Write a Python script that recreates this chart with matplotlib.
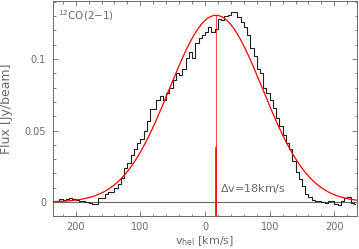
import numpy as np
import matplotlib
matplotlib.use("Agg")
import matplotlib.pyplot as plt
from matplotlib.ticker import MultipleLocator, FuncFormatter

# spectrum: channel width 5 km/s, first channel centre at -232.5 km/s
chan_width = 5.0
v_first = -232.5
flux = [
    0.001, 0.0005, 0.002, 0.0015, 0.002, 0.003, 0.0025, 0.0015, 0.001, 0.0005,
    0.0, -0.0005, -0.0015, -0.0015, 0.003, 0.003, 0.006, 0.007, 0.007, 0.0097,
    0.013, 0.017, 0.024, 0.027, 0.033, 0.037, 0.041, 0.044, 0.050, 0.057,
    0.065, 0.065, 0.071, 0.074, 0.071, 0.076, 0.080, 0.085, 0.090, 0.089,
    0.093, 0.101, 0.105, 0.101, 0.111, 0.115, 0.117, 0.119, 0.122, 0.119,
    0.121, 0.128, 0.127, 0.130, 0.131, 0.133, 0.133, 0.129, 0.126, 0.122,
    0.117, 0.108, 0.102, 0.093, 0.090, 0.080, 0.076, 0.071, 0.066, 0.059,
    0.053, 0.047, 0.041, 0.037, 0.029, 0.021, 0.016, 0.011, 0.006, 0.0035,
    0.0015, 0.0005, 0.0007, 0.0, -0.0005, 0.0007, 0.0005, -0.0015, -0.0018, 0.0005,
    0.003, 0.0037, -0.0005, -0.0015,
]
vel = v_first + chan_width * np.arange(len(flux))

# gaussian fit
g_peak = 0.1305
g_center = 17.0
g_sigma = 72.0
marker_top = 0.0375
label_text = r"$\Delta$v=18km/s"
title_text = r"$^{12}$CO(2$-$1)"

xlim = (-235, 235)
ylim = (-0.0097, 0.1405)

gray = "#6a6a6a"

fig = plt.figure(figsize=(3.59, 2.49), dpi=100)
ax = fig.add_axes([53 / 359, 1 - 216 / 249, 304 / 359, 215 / 249])

ax.axhline(0, color=gray, lw=0.8, zorder=1)
ax.step(vel, flux, where="mid", color="#222222", lw=0.8, zorder=2)

vv = np.linspace(xlim[0], xlim[1], 400)
ax.plot(vv, g_peak * np.exp(-0.5 * ((vv - g_center) / g_sigma) ** 2),
        color="red", lw=0.9, zorder=3)
ax.plot([g_center, g_center], [ylim[0], g_peak], color="red", lw=0.5, zorder=3)
ax.plot([g_center, g_center], [ylim[0], marker_top], color="red", lw=1.2, zorder=3)

ax.text(23, 0.0097, label_text, color=gray, fontsize=8, ha="left", va="center")
ax.text(0.016, 0.93, title_text, color=gray, fontsize=7.5, ha="left", va="center",
        transform=ax.transAxes)

ax.set_xlim(*xlim)
ax.set_ylim(*ylim)

ax.xaxis.set_major_locator(MultipleLocator(100))
ax.xaxis.set_minor_locator(MultipleLocator(20))
ax.yaxis.set_major_locator(MultipleLocator(0.05))
ax.yaxis.set_minor_locator(MultipleLocator(0.01))
ax.xaxis.set_major_formatter(FuncFormatter(lambda x, p: f"{abs(x):g}"))
ax.yaxis.set_major_formatter(FuncFormatter(lambda y, p: f"{y:g}"))

ax.tick_params(which="both", direction="in", top=True, right=True,
               color=gray, labelcolor=gray, labelsize=7, width=0.6)
ax.tick_params(which="major", length=3.6, pad=5)
ax.tick_params(axis="x", which="major", pad=4)
ax.tick_params(which="minor", length=1.8)
for s in ax.spines.values():
    s.set_color(gray)
    s.set_linewidth(0.7)

ax.set_xlabel(r"v$_{\rm hel}$ [km/s]", color=gray, fontsize=8)
ax.set_ylabel("Flux [Jy/beam]", color=gray, fontsize=9)
ax.xaxis.set_label_coords(0.5, -0.085)
ax.yaxis.set_label_coords(-0.133, 0.5)

fig.savefig("out.png", dpi=100)
